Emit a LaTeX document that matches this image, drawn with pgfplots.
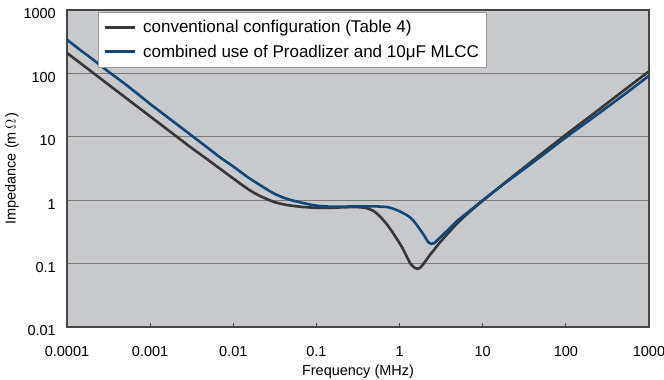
\documentclass[border=0pt]{standalone}
\usepackage{pgfplots}
\pgfplotsset{compat=1.18}
\usepackage{fontspec}
\setmainfont{Liberation Sans}
\definecolor{bgc}{RGB}{200,201,204}
\definecolor{conv}{RGB}{55,55,55}
\definecolor{comb}{RGB}{16,72,122}
\definecolor{gridc}{RGB}{120,120,120}
\definecolor{framec}{RGB}{70,70,70}
\begin{document}
\begin{tikzpicture}
\begin{axis}[
  scale only axis,
  width=582pt, height=317pt,
  xmode=log, ymode=log,
  xmin=1e-4, xmax=1000, ymin=0.01, ymax=1000,
  axis background/.style={fill=bgc},
  axis line style={draw=framec, line width=1.6pt},
  xtick={1e-4,1e-3,1e-2,1e-1,1,10,100,1000},
  xticklabels={0.0001,0.001,0.01,0.1,1,10,100,1000},
  ytick={0.01,0.1,1,10,100,1000},
  yticklabels={0.01,0.1,1,10,100,1000},
  minor tick num=0,
  xminorticks=false, yminorticks=false,
  ymajorgrids,
  major grid style={draw=gridc, line width=1.1pt},
  xtick pos=bottom, xtick align=inside,
  major tick length=4pt,
  ytick style={draw=none},
  xtick style={draw=framec, line width=0.8pt},
  tick label style={font=\fontsize{14.5}{16}\selectfont},
  xticklabel style={anchor=center, yshift=-25pt},
  yticklabel style={anchor=east, inner sep=0pt, xshift=-11pt, yshift=-4pt},
  xlabel={Frequency (MHz)},
  ylabel={Impedance (m$\,\Omega\,$)},
  label style={font=\fontsize{14.5}{16}\selectfont},
  xlabel style={at={(axis description cs:0.5,0)}, anchor=center, yshift=-45pt},
  ylabel style={at={(axis description cs:0,0.5)}, anchor=center, yshift=55pt},
  legend style={at={(axis description cs:0.053,0.994)}, anchor=north west,
    draw=gray!80, fill=white, line width=0.6pt, font=\fontsize{17}{20}\selectfont,
    inner xsep=5pt, inner ysep=6pt, row sep=7pt,
    /tikz/every odd column/.append style={column sep=5pt}},
  legend cell align=left,
  legend image code/.code={\draw[#1, line width=3pt] (0pt,0pt) -- (30pt,0pt);},
]
\addplot[conv, line width=2.6pt, smooth, tension=0.4] coordinates {
(1e-4,210) (1.5e-4,140) (2e-4,105) (3e-4,70) (5e-4,42) (7e-4,30)
(1e-3,21) (1.5e-3,14) (2e-3,10.5) (3e-3,7.0) (5e-3,4.3) (7e-3,3.1)
(0.01,2.2) (0.015,1.5) (0.02,1.2) (0.03,0.95) (0.04,0.86) (0.05,0.82)
(0.07,0.78) (0.1,0.76) (0.15,0.76) (0.2,0.77) (0.3,0.78) (0.4,0.75)
(0.5,0.66) (0.6,0.53) (0.7,0.42) (0.8,0.33) (0.9,0.26) (1.0,0.21)
(1.1,0.17) (1.2,0.135) (1.35,0.1) (1.5,0.087) (1.65,0.083) (1.8,0.088)
(2.0,0.105) (2.3,0.135) (2.6,0.165) (3.0,0.21) (4.0,0.32) (5.0,0.44)
(7.0,0.66) (10,0.98) (20,2.05) (50,5.3) (100,10.8) (200,21.5) (500,54) (1000,108)
};
\addlegendentry{conventional configuration (Table 4)}
\addplot[comb, line width=2.6pt, smooth, tension=0.4] coordinates {
(1e-4,340) (1.5e-4,225) (2e-4,170) (3e-4,112) (5e-4,68) (7e-4,48)
(1e-3,33) (1.5e-3,22) (2e-3,16.5) (3e-3,11) (5e-3,6.6) (7e-3,4.7)
(0.01,3.4) (0.015,2.3) (0.02,1.8) (0.03,1.3) (0.04,1.1) (0.05,1.0)
(0.07,0.9) (0.1,0.82) (0.15,0.79) (0.2,0.79) (0.3,0.8) (0.5,0.8)
(0.7,0.78) (0.8,0.75) (0.9,0.71) (1.0,0.67) (1.2,0.59) (1.35,0.53)
(1.5,0.46) (1.75,0.35) (2.0,0.27) (2.2,0.22) (2.4,0.205) (2.6,0.21)
(3.0,0.25) (4.0,0.36) (5.0,0.48) (7.0,0.68) (10,1.0) (20,2.0)
(50,4.9) (100,9.8) (200,19) (500,46) (1000,92)
};
\addlegendentry{combined use of Proadlizer and 10μF MLCC}
\end{axis}
\path (current axis.south west) ++(-67pt,-53pt) coordinate (bl);
\path (current axis.north east) ++(15pt,10pt) coordinate (tr);
\pgfresetboundingbox
\path[use as bounding box] (bl) rectangle (tr);
\end{tikzpicture}
\end{document}
